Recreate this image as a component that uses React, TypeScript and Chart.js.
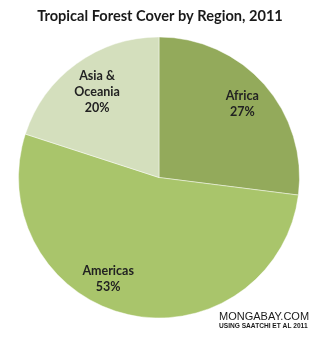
import React, { useEffect, useRef } from "react";
import { Chart, registerables } from "chart.js";

Chart.register(...registerables);

const regions = ["Africa", "Americas", "Asia & Oceania"];
const shares = [27, 53, 20];
const labelLines = [["Africa", "27%"], ["Americas", "53%"], ["Asia &", "Oceania", "20%"]];
const sliceColors = ["#93aa5b", "#a9c56b", "#d4dfbd"];
const titleText = "Tropical Forest Cover by Region, 2011";
const footerMain = "MONGABAY.COM";
const footerSub = "USING SAATCHI ET AL 2011";

// label placement within each slice: [fraction along the arc, fraction of radius]
const labelPlace = [[0.5, 0.79], [0.574, 0.805], [0.5, 0.75]];

const overlay = {
  id: "overlay",
  afterDatasetsDraw(chart: any) {
    const ctx = chart.ctx;
    const meta = chart.getDatasetMeta(0);
    ctx.save();
    ctx.textAlign = "center";
    ctx.textBaseline = "middle";
    ctx.fillStyle = "#222";
    ctx.font = "bold 12.5px Lato";
    meta.data.forEach((arc: any, i: number) => {
      const p = arc.getProps(["x", "y", "startAngle", "endAngle", "outerRadius"], true);
      const [af, rf] = labelPlace[i];
      const a = p.startAngle + (p.endAngle - p.startAngle) * af;
      const r = p.outerRadius * rf;
      const cx = p.x + Math.cos(a) * r;
      const cy = p.y + Math.sin(a) * r;
      const lines = labelLines[i];
      const lh = 16;
      lines.forEach((t, k) => {
        ctx.fillText(t, cx, cy + (k - (lines.length - 1) / 2) * lh);
      });
    });
    ctx.fillStyle = "#1a1a1a";
    ctx.font = "bold 14.6px Lato";
    ctx.fillText(titleText, 160, 16);
    ctx.textAlign = "left";
    ctx.font = "11px 'Liberation Sans'";
    ctx.fillText(footerMain, 219, 317);
    ctx.font = "bold 6.6px 'Liberation Sans'";
    ctx.fillText(footerSub, 219, 326.5);
    ctx.restore();
  },
};

export default function App() {
  const ref = useRef<HTMLCanvasElement>(null);
  useEffect(() => {
    document.body.style.margin = "0";
    const chart = new Chart(ref.current!, {
      type: "pie",
      data: {
        labels: regions,
        datasets: [
          {
            data: shares,
            backgroundColor: sliceColors,
            borderColor: "rgba(255,255,255,0.45)",
            borderWidth: 1,
          },
        ],
      },
      options: {
        animation: false,
        responsive: false,
        layout: { padding: { left: 18, right: 28, top: 36.5, bottom: 25.5 } },
        plugins: { legend: { display: false }, tooltip: { enabled: false }, title: { display: false } },
      },
      plugins: [overlay],
    });
    return () => chart.destroy();
  }, []);
  return (
    <div style={{ width: 328, height: 344, background: "#fff" }}>
      <canvas ref={ref} width={328} height={344} />
    </div>
  );
}
